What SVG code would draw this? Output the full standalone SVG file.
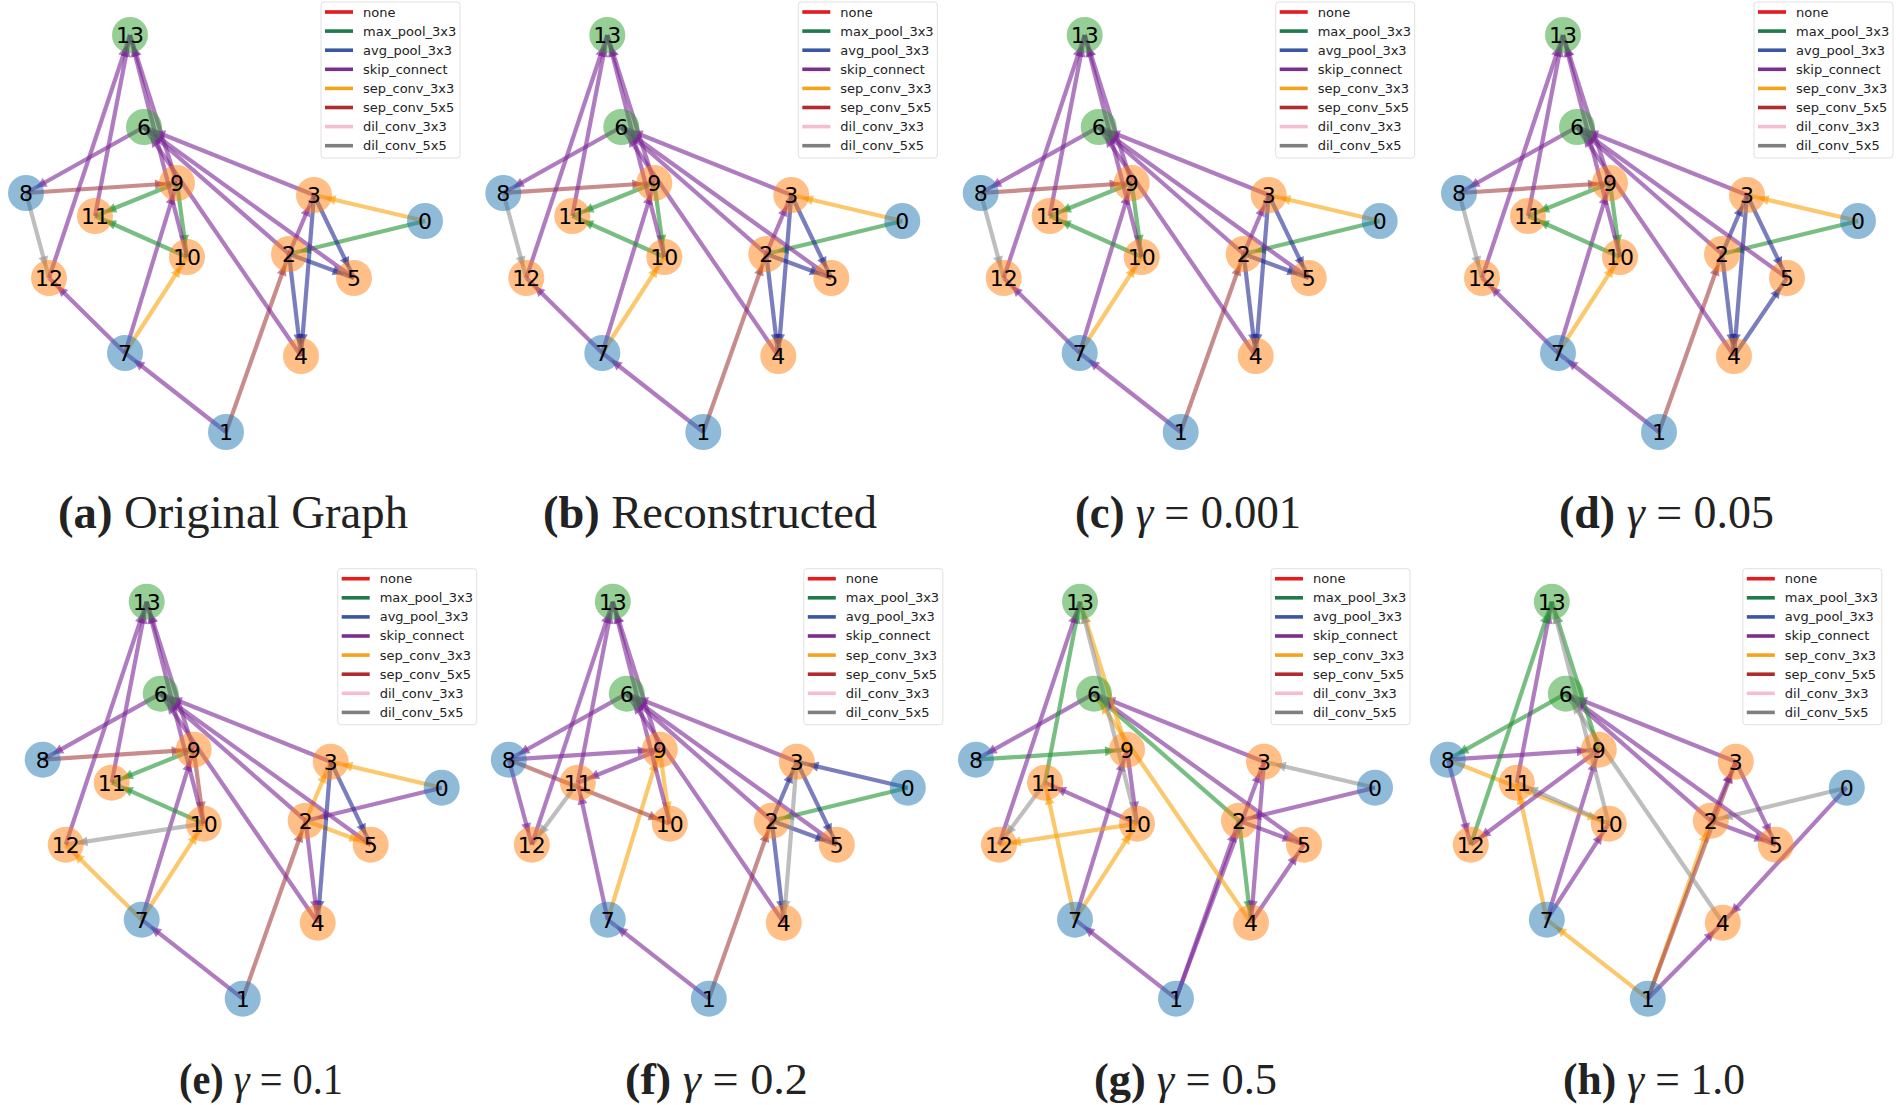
<svg xmlns="http://www.w3.org/2000/svg" xmlns:xlink="http://www.w3.org/1999/xlink" width="1900" height="1105" viewBox="0 0 1900 1105">
<style>
.edges line{stroke-width:4.2;stroke-opacity:.6;fill:none}
.max{stroke:#1e932f;marker-end:url(#m-max)}
.avg{stroke:#22288f;marker-end:url(#m-avg)}
.skip{stroke:#7b2596;marker-end:url(#m-skip)}
.sep3{stroke:#faa30d;marker-end:url(#m-sep3)}
.sep5{stroke:#a33f3f;marker-end:url(#m-sep5)}
.dil5{stroke:#939393;marker-end:url(#m-dil5)}
.node circle{fill-opacity:.5;stroke:none}
.cb{fill:#1f77b4}.co{fill:#ff7f0e}.cg{fill:#2ca02c}
.node text{font-family:"DejaVu Sans",sans-serif;font-size:22px;text-anchor:middle;fill:#000}
.lg text{font-family:"DejaVu Sans",sans-serif;font-size:13px;fill:#222}
.lg line{stroke-width:3.6}
.title{font-family:"Liberation Serif","DejaVu Serif",serif;font-size:46px;fill:#222}
.title2{font-family:"Liberation Serif","DejaVu Serif",serif;font-size:44px;fill:#222}
</style>
<defs>
<marker id="m-max" markerUnits="userSpaceOnUse" markerWidth="40" markerHeight="20" viewBox="-30 -10 40 20" refX="0" refY="0" orient="auto" overflow="visible"><path d="M-11,0 L-22,-5 L-22,5 Z" fill="#1e932f" fill-opacity=".6"/></marker>
<marker id="m-avg" markerUnits="userSpaceOnUse" markerWidth="40" markerHeight="20" viewBox="-30 -10 40 20" refX="0" refY="0" orient="auto" overflow="visible"><path d="M-11,0 L-22,-5 L-22,5 Z" fill="#22288f" fill-opacity=".6"/></marker>
<marker id="m-skip" markerUnits="userSpaceOnUse" markerWidth="40" markerHeight="20" viewBox="-30 -10 40 20" refX="0" refY="0" orient="auto" overflow="visible"><path d="M-11,0 L-22,-5 L-22,5 Z" fill="#7b2596" fill-opacity=".6"/></marker>
<marker id="m-sep3" markerUnits="userSpaceOnUse" markerWidth="40" markerHeight="20" viewBox="-30 -10 40 20" refX="0" refY="0" orient="auto" overflow="visible"><path d="M-11,0 L-22,-5 L-22,5 Z" fill="#faa30d" fill-opacity=".6"/></marker>
<marker id="m-sep5" markerUnits="userSpaceOnUse" markerWidth="40" markerHeight="20" viewBox="-30 -10 40 20" refX="0" refY="0" orient="auto" overflow="visible"><path d="M-11,0 L-22,-5 L-22,5 Z" fill="#a33f3f" fill-opacity=".6"/></marker>
<marker id="m-dil5" markerUnits="userSpaceOnUse" markerWidth="40" markerHeight="20" viewBox="-30 -10 40 20" refX="0" refY="0" orient="auto" overflow="visible"><path d="M-11,0 L-22,-5 L-22,5 Z" fill="#939393" fill-opacity=".6"/></marker>
<g id="legend" class="lg">
<rect x="321" y="2" width="139" height="156" rx="3" fill="#fff" fill-opacity=".8" stroke="#e0e0e0" stroke-width="1"/>
<line x1="325" y1="12" x2="353" y2="12" stroke="#e41a1c"/><text x="363" y="16.5">none</text>
<line x1="325" y1="31.1" x2="353" y2="31.1" stroke="#1e7b4b"/><text x="363" y="35.6">max_pool_3x3</text>
<line x1="325" y1="50.2" x2="353" y2="50.2" stroke="#3a57a4"/><text x="363" y="54.7">avg_pool_3x3</text>
<line x1="325" y1="69.3" x2="353" y2="69.3" stroke="#7a2f8e"/><text x="363" y="73.8">skip_connect</text>
<line x1="325" y1="88.4" x2="353" y2="88.4" stroke="#f5a31a"/><text x="363" y="92.9">sep_conv_3x3</text>
<line x1="325" y1="107.5" x2="353" y2="107.5" stroke="#b22a2e"/><text x="363" y="112">sep_conv_5x5</text>
<line x1="325" y1="126.6" x2="353" y2="126.6" stroke="#f6bcd0"/><text x="363" y="131.1">dil_conv_3x3</text>
<line x1="325" y1="145.7" x2="353" y2="145.7" stroke="#808080"/><text x="363" y="150.2">dil_conv_5x5</text>
</g>
</defs>
<rect width="1900" height="1105" fill="#fff"/>

<!-- Panel a -->
<g id="panel-a" transform="translate(0,0)">
<g id="a-edges" class="edges">
<line class="max" x1="425" y1="221" x2="289" y2="254"/>
<line class="sep5" x1="226" y1="432" x2="289" y2="254"/>
<line class="sep3" x1="425" y1="221" x2="314" y2="195"/>
<line class="skip" x1="289" y1="254" x2="314" y2="195"/>
<line class="avg" x1="289" y1="254" x2="301" y2="356"/>
<line class="avg" x1="314" y1="195" x2="301" y2="356"/>
<line class="avg" x1="289" y1="254" x2="354" y2="278"/>
<line class="avg" x1="314" y1="195" x2="354" y2="278"/>
<line class="skip" x1="289" y1="254" x2="144" y2="127"/>
<line class="skip" x1="314" y1="195" x2="144" y2="127"/>
<line class="skip" x1="301" y1="356" x2="144" y2="127"/>
<line class="skip" x1="354" y1="278" x2="144" y2="127"/>
<line class="skip" x1="144" y1="127" x2="26" y2="193"/>
<line class="skip" x1="226" y1="432" x2="125" y2="353"/>
<line class="sep5" x1="26" y1="193" x2="177" y2="183"/>
<line class="skip" x1="125" y1="353" x2="177" y2="183"/>
<line class="max" x1="177" y1="183" x2="187" y2="257"/>
<line class="sep3" x1="125" y1="353" x2="187" y2="257"/>
<line class="max" x1="177" y1="183" x2="95" y2="216"/>
<line class="max" x1="187" y1="257" x2="95" y2="216"/>
<line class="dil5" x1="26" y1="193" x2="49" y2="278"/>
<line class="skip" x1="125" y1="353" x2="49" y2="278"/>
<line class="skip" x1="177" y1="183" x2="130" y2="35"/>
<line class="skip" x1="187" y1="257" x2="130" y2="35"/>
<line class="skip" x1="95" y1="216" x2="130" y2="35"/>
<line class="skip" x1="49" y1="278" x2="130" y2="35"/>
</g>
<g id="a-n0" class="node"><circle class="cb" cx="425" cy="221" r="18"/><text x="425" y="229">0</text></g>
<g id="a-n1" class="node"><circle class="cb" cx="226" cy="432" r="18"/><text x="226" y="440">1</text></g>
<g id="a-n2" class="node"><circle class="co" cx="289" cy="254" r="18"/><text x="289" y="262">2</text></g>
<g id="a-n3" class="node"><circle class="co" cx="314" cy="195" r="18"/><text x="314" y="203">3</text></g>
<g id="a-n4" class="node"><circle class="co" cx="301" cy="356" r="18"/><text x="301" y="364">4</text></g>
<g id="a-n5" class="node"><circle class="co" cx="354" cy="278" r="18"/><text x="354" y="286">5</text></g>
<g id="a-n6" class="node"><circle class="cg" cx="144" cy="127" r="18"/><text x="144" y="135">6</text></g>
<g id="a-n7" class="node"><circle class="cb" cx="125" cy="353" r="18"/><text x="125" y="361">7</text></g>
<g id="a-n8" class="node"><circle class="cb" cx="26" cy="193" r="18"/><text x="26" y="201">8</text></g>
<g id="a-n9" class="node"><circle class="co" cx="177" cy="183" r="18"/><text x="177" y="191">9</text></g>
<g id="a-n10" class="node"><circle class="co" cx="187" cy="257" r="18"/><text x="187" y="265">10</text></g>
<g id="a-n11" class="node"><circle class="co" cx="95" cy="216" r="18"/><text x="95" y="224">11</text></g>
<g id="a-n12" class="node"><circle class="co" cx="49" cy="278" r="18"/><text x="49" y="286">12</text></g>
<g id="a-n13" class="node"><circle class="cg" cx="130" cy="35" r="18"/><text x="130" y="43">13</text></g>
<use xlink:href="#legend" href="#legend"/>
</g>

<!-- Panel b -->
<g id="panel-b" transform="translate(477.3,0)">
<g id="b-edges" class="edges">
<line class="max" x1="425" y1="221" x2="289" y2="254"/>
<line class="sep5" x1="226" y1="432" x2="289" y2="254"/>
<line class="sep3" x1="425" y1="221" x2="314" y2="195"/>
<line class="skip" x1="289" y1="254" x2="314" y2="195"/>
<line class="avg" x1="289" y1="254" x2="301" y2="356"/>
<line class="avg" x1="314" y1="195" x2="301" y2="356"/>
<line class="avg" x1="289" y1="254" x2="354" y2="278"/>
<line class="avg" x1="314" y1="195" x2="354" y2="278"/>
<line class="skip" x1="289" y1="254" x2="144" y2="127"/>
<line class="skip" x1="314" y1="195" x2="144" y2="127"/>
<line class="skip" x1="301" y1="356" x2="144" y2="127"/>
<line class="skip" x1="354" y1="278" x2="144" y2="127"/>
<line class="skip" x1="144" y1="127" x2="26" y2="193"/>
<line class="skip" x1="226" y1="432" x2="125" y2="353"/>
<line class="sep5" x1="26" y1="193" x2="177" y2="183"/>
<line class="skip" x1="125" y1="353" x2="177" y2="183"/>
<line class="max" x1="177" y1="183" x2="187" y2="257"/>
<line class="sep3" x1="125" y1="353" x2="187" y2="257"/>
<line class="max" x1="177" y1="183" x2="95" y2="216"/>
<line class="max" x1="187" y1="257" x2="95" y2="216"/>
<line class="dil5" x1="26" y1="193" x2="49" y2="278"/>
<line class="skip" x1="125" y1="353" x2="49" y2="278"/>
<line class="skip" x1="177" y1="183" x2="130" y2="35"/>
<line class="skip" x1="187" y1="257" x2="130" y2="35"/>
<line class="skip" x1="95" y1="216" x2="130" y2="35"/>
<line class="skip" x1="49" y1="278" x2="130" y2="35"/>
</g>
<g id="b-n0" class="node"><circle class="cb" cx="425" cy="221" r="18"/><text x="425" y="229">0</text></g>
<g id="b-n1" class="node"><circle class="cb" cx="226" cy="432" r="18"/><text x="226" y="440">1</text></g>
<g id="b-n2" class="node"><circle class="co" cx="289" cy="254" r="18"/><text x="289" y="262">2</text></g>
<g id="b-n3" class="node"><circle class="co" cx="314" cy="195" r="18"/><text x="314" y="203">3</text></g>
<g id="b-n4" class="node"><circle class="co" cx="301" cy="356" r="18"/><text x="301" y="364">4</text></g>
<g id="b-n5" class="node"><circle class="co" cx="354" cy="278" r="18"/><text x="354" y="286">5</text></g>
<g id="b-n6" class="node"><circle class="cg" cx="144" cy="127" r="18"/><text x="144" y="135">6</text></g>
<g id="b-n7" class="node"><circle class="cb" cx="125" cy="353" r="18"/><text x="125" y="361">7</text></g>
<g id="b-n8" class="node"><circle class="cb" cx="26" cy="193" r="18"/><text x="26" y="201">8</text></g>
<g id="b-n9" class="node"><circle class="co" cx="177" cy="183" r="18"/><text x="177" y="191">9</text></g>
<g id="b-n10" class="node"><circle class="co" cx="187" cy="257" r="18"/><text x="187" y="265">10</text></g>
<g id="b-n11" class="node"><circle class="co" cx="95" cy="216" r="18"/><text x="95" y="224">11</text></g>
<g id="b-n12" class="node"><circle class="co" cx="49" cy="278" r="18"/><text x="49" y="286">12</text></g>
<g id="b-n13" class="node"><circle class="cg" cx="130" cy="35" r="18"/><text x="130" y="43">13</text></g>
<use xlink:href="#legend" href="#legend"/>
</g>

<!-- Panel c -->
<g id="panel-c" transform="translate(954.7,0)">
<g id="c-edges" class="edges">
<line class="max" x1="425" y1="221" x2="289" y2="254"/>
<line class="sep5" x1="226" y1="432" x2="289" y2="254"/>
<line class="sep3" x1="425" y1="221" x2="314" y2="195"/>
<line class="skip" x1="289" y1="254" x2="314" y2="195"/>
<line class="avg" x1="289" y1="254" x2="301" y2="356"/>
<line class="avg" x1="314" y1="195" x2="301" y2="356"/>
<line class="avg" x1="289" y1="254" x2="354" y2="278"/>
<line class="avg" x1="314" y1="195" x2="354" y2="278"/>
<line class="skip" x1="289" y1="254" x2="144" y2="127"/>
<line class="skip" x1="314" y1="195" x2="144" y2="127"/>
<line class="skip" x1="301" y1="356" x2="144" y2="127"/>
<line class="skip" x1="354" y1="278" x2="144" y2="127"/>
<line class="skip" x1="144" y1="127" x2="26" y2="193"/>
<line class="skip" x1="226" y1="432" x2="125" y2="353"/>
<line class="sep5" x1="26" y1="193" x2="177" y2="183"/>
<line class="skip" x1="125" y1="353" x2="177" y2="183"/>
<line class="max" x1="177" y1="183" x2="187" y2="257"/>
<line class="sep3" x1="125" y1="353" x2="187" y2="257"/>
<line class="max" x1="177" y1="183" x2="95" y2="216"/>
<line class="max" x1="187" y1="257" x2="95" y2="216"/>
<line class="dil5" x1="26" y1="193" x2="49" y2="278"/>
<line class="skip" x1="125" y1="353" x2="49" y2="278"/>
<line class="skip" x1="177" y1="183" x2="130" y2="35"/>
<line class="skip" x1="187" y1="257" x2="130" y2="35"/>
<line class="skip" x1="95" y1="216" x2="130" y2="35"/>
<line class="skip" x1="49" y1="278" x2="130" y2="35"/>
</g>
<g id="c-n0" class="node"><circle class="cb" cx="425" cy="221" r="18"/><text x="425" y="229">0</text></g>
<g id="c-n1" class="node"><circle class="cb" cx="226" cy="432" r="18"/><text x="226" y="440">1</text></g>
<g id="c-n2" class="node"><circle class="co" cx="289" cy="254" r="18"/><text x="289" y="262">2</text></g>
<g id="c-n3" class="node"><circle class="co" cx="314" cy="195" r="18"/><text x="314" y="203">3</text></g>
<g id="c-n4" class="node"><circle class="co" cx="301" cy="356" r="18"/><text x="301" y="364">4</text></g>
<g id="c-n5" class="node"><circle class="co" cx="354" cy="278" r="18"/><text x="354" y="286">5</text></g>
<g id="c-n6" class="node"><circle class="cg" cx="144" cy="127" r="18"/><text x="144" y="135">6</text></g>
<g id="c-n7" class="node"><circle class="cb" cx="125" cy="353" r="18"/><text x="125" y="361">7</text></g>
<g id="c-n8" class="node"><circle class="cb" cx="26" cy="193" r="18"/><text x="26" y="201">8</text></g>
<g id="c-n9" class="node"><circle class="co" cx="177" cy="183" r="18"/><text x="177" y="191">9</text></g>
<g id="c-n10" class="node"><circle class="co" cx="187" cy="257" r="18"/><text x="187" y="265">10</text></g>
<g id="c-n11" class="node"><circle class="co" cx="95" cy="216" r="18"/><text x="95" y="224">11</text></g>
<g id="c-n12" class="node"><circle class="co" cx="49" cy="278" r="18"/><text x="49" y="286">12</text></g>
<g id="c-n13" class="node"><circle class="cg" cx="130" cy="35" r="18"/><text x="130" y="43">13</text></g>
<use xlink:href="#legend" href="#legend"/>
</g>

<!-- Panel d -->
<g id="panel-d" transform="translate(1433,0)">
<g id="d-edges" class="edges">
<line class="max" x1="425" y1="221" x2="289" y2="254"/>
<line class="sep5" x1="226" y1="432" x2="289" y2="254"/>
<line class="sep3" x1="425" y1="221" x2="314" y2="195"/>
<line class="avg" x1="289" y1="254" x2="314" y2="195"/>
<line class="avg" x1="289" y1="254" x2="301" y2="356"/>
<line class="avg" x1="314" y1="195" x2="301" y2="356"/>
<line class="avg" x1="301" y1="356" x2="354" y2="278"/>
<line class="avg" x1="314" y1="195" x2="354" y2="278"/>
<line class="skip" x1="289" y1="254" x2="144" y2="127"/>
<line class="skip" x1="314" y1="195" x2="144" y2="127"/>
<line class="skip" x1="301" y1="356" x2="144" y2="127"/>
<line class="skip" x1="354" y1="278" x2="144" y2="127"/>
<line class="skip" x1="144" y1="127" x2="26" y2="193"/>
<line class="skip" x1="226" y1="432" x2="125" y2="353"/>
<line class="sep5" x1="26" y1="193" x2="177" y2="183"/>
<line class="skip" x1="125" y1="353" x2="177" y2="183"/>
<line class="max" x1="177" y1="183" x2="187" y2="257"/>
<line class="sep3" x1="125" y1="353" x2="187" y2="257"/>
<line class="max" x1="177" y1="183" x2="95" y2="216"/>
<line class="max" x1="187" y1="257" x2="95" y2="216"/>
<line class="dil5" x1="26" y1="193" x2="49" y2="278"/>
<line class="skip" x1="125" y1="353" x2="49" y2="278"/>
<line class="skip" x1="177" y1="183" x2="130" y2="35"/>
<line class="skip" x1="187" y1="257" x2="130" y2="35"/>
<line class="skip" x1="95" y1="216" x2="130" y2="35"/>
<line class="skip" x1="49" y1="278" x2="130" y2="35"/>
</g>
<g id="d-n0" class="node"><circle class="cb" cx="425" cy="221" r="18"/><text x="425" y="229">0</text></g>
<g id="d-n1" class="node"><circle class="cb" cx="226" cy="432" r="18"/><text x="226" y="440">1</text></g>
<g id="d-n2" class="node"><circle class="co" cx="289" cy="254" r="18"/><text x="289" y="262">2</text></g>
<g id="d-n3" class="node"><circle class="co" cx="314" cy="195" r="18"/><text x="314" y="203">3</text></g>
<g id="d-n4" class="node"><circle class="co" cx="301" cy="356" r="18"/><text x="301" y="364">4</text></g>
<g id="d-n5" class="node"><circle class="co" cx="354" cy="278" r="18"/><text x="354" y="286">5</text></g>
<g id="d-n6" class="node"><circle class="cg" cx="144" cy="127" r="18"/><text x="144" y="135">6</text></g>
<g id="d-n7" class="node"><circle class="cb" cx="125" cy="353" r="18"/><text x="125" y="361">7</text></g>
<g id="d-n8" class="node"><circle class="cb" cx="26" cy="193" r="18"/><text x="26" y="201">8</text></g>
<g id="d-n9" class="node"><circle class="co" cx="177" cy="183" r="18"/><text x="177" y="191">9</text></g>
<g id="d-n10" class="node"><circle class="co" cx="187" cy="257" r="18"/><text x="187" y="265">10</text></g>
<g id="d-n11" class="node"><circle class="co" cx="95" cy="216" r="18"/><text x="95" y="224">11</text></g>
<g id="d-n12" class="node"><circle class="co" cx="49" cy="278" r="18"/><text x="49" y="286">12</text></g>
<g id="d-n13" class="node"><circle class="cg" cx="130" cy="35" r="18"/><text x="130" y="43">13</text></g>
<use xlink:href="#legend" href="#legend"/>
</g>

<!-- Panel e -->
<g id="panel-e" transform="translate(16.7,566.7)">
<g id="e-edges" class="edges">
<line class="sep3" x1="425" y1="221" x2="314" y2="195"/>
<line class="skip" x1="425" y1="221" x2="289" y2="254"/>
<line class="sep5" x1="226" y1="432" x2="289" y2="254"/>
<line class="sep3" x1="289" y1="254" x2="314" y2="195"/>
<line class="sep3" x1="289" y1="254" x2="354" y2="278"/>
<line class="avg" x1="314" y1="195" x2="354" y2="278"/>
<line class="avg" x1="314" y1="195" x2="301" y2="356"/>
<line class="skip" x1="289" y1="254" x2="301" y2="356"/>
<line class="skip" x1="289" y1="254" x2="144" y2="127"/>
<line class="skip" x1="314" y1="195" x2="144" y2="127"/>
<line class="skip" x1="301" y1="356" x2="144" y2="127"/>
<line class="skip" x1="354" y1="278" x2="144" y2="127"/>
<line class="skip" x1="144" y1="127" x2="26" y2="193"/>
<line class="skip" x1="226" y1="432" x2="125" y2="353"/>
<line class="sep5" x1="26" y1="193" x2="177" y2="183"/>
<line class="skip" x1="125" y1="353" x2="177" y2="183"/>
<line class="sep5" x1="177" y1="183" x2="187" y2="257"/>
<line class="sep3" x1="125" y1="353" x2="187" y2="257"/>
<line class="max" x1="177" y1="183" x2="95" y2="216"/>
<line class="max" x1="187" y1="257" x2="95" y2="216"/>
<line class="dil5" x1="187" y1="257" x2="49" y2="278"/>
<line class="sep3" x1="125" y1="353" x2="49" y2="278"/>
<line class="skip" x1="177" y1="183" x2="130" y2="35"/>
<line class="skip" x1="187" y1="257" x2="130" y2="35"/>
<line class="skip" x1="95" y1="216" x2="130" y2="35"/>
<line class="skip" x1="49" y1="278" x2="130" y2="35"/>
</g>
<g id="e-n0" class="node"><circle class="cb" cx="425" cy="221" r="18"/><text x="425" y="229">0</text></g>
<g id="e-n1" class="node"><circle class="cb" cx="226" cy="432" r="18"/><text x="226" y="440">1</text></g>
<g id="e-n2" class="node"><circle class="co" cx="289" cy="254" r="18"/><text x="289" y="262">2</text></g>
<g id="e-n3" class="node"><circle class="co" cx="314" cy="195" r="18"/><text x="314" y="203">3</text></g>
<g id="e-n4" class="node"><circle class="co" cx="301" cy="356" r="18"/><text x="301" y="364">4</text></g>
<g id="e-n5" class="node"><circle class="co" cx="354" cy="278" r="18"/><text x="354" y="286">5</text></g>
<g id="e-n6" class="node"><circle class="cg" cx="144" cy="127" r="18"/><text x="144" y="135">6</text></g>
<g id="e-n7" class="node"><circle class="cb" cx="125" cy="353" r="18"/><text x="125" y="361">7</text></g>
<g id="e-n8" class="node"><circle class="cb" cx="26" cy="193" r="18"/><text x="26" y="201">8</text></g>
<g id="e-n9" class="node"><circle class="co" cx="177" cy="183" r="18"/><text x="177" y="191">9</text></g>
<g id="e-n10" class="node"><circle class="co" cx="187" cy="257" r="18"/><text x="187" y="265">10</text></g>
<g id="e-n11" class="node"><circle class="co" cx="95" cy="216" r="18"/><text x="95" y="224">11</text></g>
<g id="e-n12" class="node"><circle class="co" cx="49" cy="278" r="18"/><text x="49" y="286">12</text></g>
<g id="e-n13" class="node"><circle class="cg" cx="130" cy="35" r="18"/><text x="130" y="43">13</text></g>
<use xlink:href="#legend" href="#legend"/>
</g>

<!-- Panel f -->
<g id="panel-f" transform="translate(482.8,566.7)">
<g id="f-edges" class="edges">
<line class="avg" x1="425" y1="221" x2="314" y2="195"/>
<line class="max" x1="425" y1="221" x2="289" y2="254"/>
<line class="sep5" x1="226" y1="432" x2="289" y2="254"/>
<line class="avg" x1="289" y1="254" x2="314" y2="195"/>
<line class="avg" x1="314" y1="195" x2="354" y2="278"/>
<line class="avg" x1="289" y1="254" x2="354" y2="278"/>
<line class="avg" x1="289" y1="254" x2="301" y2="356"/>
<line class="dil5" x1="314" y1="195" x2="301" y2="356"/>
<line class="skip" x1="289" y1="254" x2="144" y2="127"/>
<line class="skip" x1="314" y1="195" x2="144" y2="127"/>
<line class="skip" x1="301" y1="356" x2="144" y2="127"/>
<line class="skip" x1="354" y1="278" x2="144" y2="127"/>
<line class="skip" x1="144" y1="127" x2="26" y2="193"/>
<line class="skip" x1="226" y1="432" x2="125" y2="353"/>
<line class="skip" x1="26" y1="193" x2="177" y2="183"/>
<line class="sep3" x1="125" y1="353" x2="177" y2="183"/>
<line class="sep3" x1="177" y1="183" x2="187" y2="257"/>
<line class="sep5" x1="26" y1="193" x2="187" y2="257"/>
<line class="skip" x1="177" y1="183" x2="95" y2="216"/>
<line class="skip" x1="125" y1="353" x2="95" y2="216"/>
<line class="dil5" x1="95" y1="216" x2="49" y2="278"/>
<line class="skip" x1="26" y1="193" x2="49" y2="278"/>
<line class="skip" x1="177" y1="183" x2="130" y2="35"/>
<line class="skip" x1="187" y1="257" x2="130" y2="35"/>
<line class="skip" x1="95" y1="216" x2="130" y2="35"/>
<line class="skip" x1="49" y1="278" x2="130" y2="35"/>
</g>
<g id="f-n0" class="node"><circle class="cb" cx="425" cy="221" r="18"/><text x="425" y="229">0</text></g>
<g id="f-n1" class="node"><circle class="cb" cx="226" cy="432" r="18"/><text x="226" y="440">1</text></g>
<g id="f-n2" class="node"><circle class="co" cx="289" cy="254" r="18"/><text x="289" y="262">2</text></g>
<g id="f-n3" class="node"><circle class="co" cx="314" cy="195" r="18"/><text x="314" y="203">3</text></g>
<g id="f-n4" class="node"><circle class="co" cx="301" cy="356" r="18"/><text x="301" y="364">4</text></g>
<g id="f-n5" class="node"><circle class="co" cx="354" cy="278" r="18"/><text x="354" y="286">5</text></g>
<g id="f-n6" class="node"><circle class="cg" cx="144" cy="127" r="18"/><text x="144" y="135">6</text></g>
<g id="f-n7" class="node"><circle class="cb" cx="125" cy="353" r="18"/><text x="125" y="361">7</text></g>
<g id="f-n8" class="node"><circle class="cb" cx="26" cy="193" r="18"/><text x="26" y="201">8</text></g>
<g id="f-n9" class="node"><circle class="co" cx="177" cy="183" r="18"/><text x="177" y="191">9</text></g>
<g id="f-n10" class="node"><circle class="co" cx="187" cy="257" r="18"/><text x="187" y="265">10</text></g>
<g id="f-n11" class="node"><circle class="co" cx="95" cy="216" r="18"/><text x="95" y="224">11</text></g>
<g id="f-n12" class="node"><circle class="co" cx="49" cy="278" r="18"/><text x="49" y="286">12</text></g>
<g id="f-n13" class="node"><circle class="cg" cx="130" cy="35" r="18"/><text x="130" y="43">13</text></g>
<use xlink:href="#legend" href="#legend"/>
</g>

<!-- Panel g -->
<g id="panel-g" transform="translate(950,566.7)">
<g id="g-edges" class="edges">
<line class="dil5" x1="425" y1="221" x2="314" y2="195"/>
<line class="skip" x1="425" y1="221" x2="289" y2="254"/>
<line class="skip" x1="226" y1="432" x2="289" y2="254"/>
<line class="skip" x1="226" y1="432" x2="314" y2="195"/>
<line class="max" x1="289" y1="254" x2="301" y2="356"/>
<line class="skip" x1="314" y1="195" x2="301" y2="356"/>
<line class="skip" x1="301" y1="356" x2="354" y2="278"/>
<line class="skip" x1="289" y1="254" x2="354" y2="278"/>
<line class="max" x1="289" y1="254" x2="144" y2="127"/>
<line class="skip" x1="314" y1="195" x2="144" y2="127"/>
<line class="sep3" x1="301" y1="356" x2="144" y2="127"/>
<line class="skip" x1="354" y1="278" x2="144" y2="127"/>
<line class="skip" x1="144" y1="127" x2="26" y2="193"/>
<line class="skip" x1="226" y1="432" x2="125" y2="353"/>
<line class="max" x1="26" y1="193" x2="177" y2="183"/>
<line class="skip" x1="125" y1="353" x2="177" y2="183"/>
<line class="skip" x1="177" y1="183" x2="187" y2="257"/>
<line class="sep3" x1="125" y1="353" x2="187" y2="257"/>
<line class="skip" x1="187" y1="257" x2="95" y2="216"/>
<line class="sep3" x1="125" y1="353" x2="95" y2="216"/>
<line class="dil5" x1="95" y1="216" x2="49" y2="278"/>
<line class="sep3" x1="187" y1="257" x2="49" y2="278"/>
<line class="sep3" x1="177" y1="183" x2="130" y2="35"/>
<line class="dil5" x1="187" y1="257" x2="130" y2="35"/>
<line class="max" x1="95" y1="216" x2="130" y2="35"/>
<line class="skip" x1="49" y1="278" x2="130" y2="35"/>
</g>
<g id="g-n0" class="node"><circle class="cb" cx="425" cy="221" r="18"/><text x="425" y="229">0</text></g>
<g id="g-n1" class="node"><circle class="cb" cx="226" cy="432" r="18"/><text x="226" y="440">1</text></g>
<g id="g-n2" class="node"><circle class="co" cx="289" cy="254" r="18"/><text x="289" y="262">2</text></g>
<g id="g-n3" class="node"><circle class="co" cx="314" cy="195" r="18"/><text x="314" y="203">3</text></g>
<g id="g-n4" class="node"><circle class="co" cx="301" cy="356" r="18"/><text x="301" y="364">4</text></g>
<g id="g-n5" class="node"><circle class="co" cx="354" cy="278" r="18"/><text x="354" y="286">5</text></g>
<g id="g-n6" class="node"><circle class="cg" cx="144" cy="127" r="18"/><text x="144" y="135">6</text></g>
<g id="g-n7" class="node"><circle class="cb" cx="125" cy="353" r="18"/><text x="125" y="361">7</text></g>
<g id="g-n8" class="node"><circle class="cb" cx="26" cy="193" r="18"/><text x="26" y="201">8</text></g>
<g id="g-n9" class="node"><circle class="co" cx="177" cy="183" r="18"/><text x="177" y="191">9</text></g>
<g id="g-n10" class="node"><circle class="co" cx="187" cy="257" r="18"/><text x="187" y="265">10</text></g>
<g id="g-n11" class="node"><circle class="co" cx="95" cy="216" r="18"/><text x="95" y="224">11</text></g>
<g id="g-n12" class="node"><circle class="co" cx="49" cy="278" r="18"/><text x="49" y="286">12</text></g>
<g id="g-n13" class="node"><circle class="cg" cx="130" cy="35" r="18"/><text x="130" y="43">13</text></g>
<use xlink:href="#legend" href="#legend"/>
</g>

<!-- Panel h -->
<g id="panel-h" transform="translate(1421.8,566.7)">
<g id="h-edges" class="edges">
<line class="dil5" x1="425" y1="221" x2="289" y2="254"/>
<line class="skip" x1="425" y1="221" x2="301" y2="356"/>
<line class="sep3" x1="226" y1="432" x2="289" y2="254"/>
<line class="sep5" x1="226" y1="432" x2="314" y2="195"/>
<line class="skip" x1="289" y1="254" x2="314" y2="195"/>
<line class="skip" x1="226" y1="432" x2="301" y2="356"/>
<line class="skip" x1="314" y1="195" x2="354" y2="278"/>
<line class="skip" x1="289" y1="254" x2="354" y2="278"/>
<line class="skip" x1="289" y1="254" x2="144" y2="127"/>
<line class="skip" x1="314" y1="195" x2="144" y2="127"/>
<line class="dil5" x1="301" y1="356" x2="144" y2="127"/>
<line class="skip" x1="354" y1="278" x2="144" y2="127"/>
<line class="max" x1="144" y1="127" x2="26" y2="193"/>
<line class="sep3" x1="226" y1="432" x2="125" y2="353"/>
<line class="skip" x1="26" y1="193" x2="177" y2="183"/>
<line class="skip" x1="125" y1="353" x2="177" y2="183"/>
<line class="skip" x1="125" y1="353" x2="187" y2="257"/>
<line class="sep3" x1="26" y1="193" x2="187" y2="257"/>
<line class="dil5" x1="187" y1="257" x2="95" y2="216"/>
<line class="sep3" x1="125" y1="353" x2="95" y2="216"/>
<line class="skip" x1="26" y1="193" x2="49" y2="278"/>
<line class="skip" x1="177" y1="183" x2="49" y2="278"/>
<line class="max" x1="177" y1="183" x2="130" y2="35"/>
<line class="dil5" x1="187" y1="257" x2="130" y2="35"/>
<line class="skip" x1="95" y1="216" x2="130" y2="35"/>
<line class="max" x1="49" y1="278" x2="130" y2="35"/>
</g>
<g id="h-n0" class="node"><circle class="cb" cx="425" cy="221" r="18"/><text x="425" y="229">0</text></g>
<g id="h-n1" class="node"><circle class="cb" cx="226" cy="432" r="18"/><text x="226" y="440">1</text></g>
<g id="h-n2" class="node"><circle class="co" cx="289" cy="254" r="18"/><text x="289" y="262">2</text></g>
<g id="h-n3" class="node"><circle class="co" cx="314" cy="195" r="18"/><text x="314" y="203">3</text></g>
<g id="h-n4" class="node"><circle class="co" cx="301" cy="356" r="18"/><text x="301" y="364">4</text></g>
<g id="h-n5" class="node"><circle class="co" cx="354" cy="278" r="18"/><text x="354" y="286">5</text></g>
<g id="h-n6" class="node"><circle class="cg" cx="144" cy="127" r="18"/><text x="144" y="135">6</text></g>
<g id="h-n7" class="node"><circle class="cb" cx="125" cy="353" r="18"/><text x="125" y="361">7</text></g>
<g id="h-n8" class="node"><circle class="cb" cx="26" cy="193" r="18"/><text x="26" y="201">8</text></g>
<g id="h-n9" class="node"><circle class="co" cx="177" cy="183" r="18"/><text x="177" y="191">9</text></g>
<g id="h-n10" class="node"><circle class="co" cx="187" cy="257" r="18"/><text x="187" y="265">10</text></g>
<g id="h-n11" class="node"><circle class="co" cx="95" cy="216" r="18"/><text x="95" y="224">11</text></g>
<g id="h-n12" class="node"><circle class="co" cx="49" cy="278" r="18"/><text x="49" y="286">12</text></g>
<g id="h-n13" class="node"><circle class="cg" cx="130" cy="35" r="18"/><text x="130" y="43">13</text></g>
<use xlink:href="#legend" href="#legend"/>
</g>

<g id="titles">
<text class="title" x="58" y="528" textLength="350" lengthAdjust="spacingAndGlyphs"><tspan font-weight="bold">(a)</tspan> Original Graph</text>
<text class="title" x="543" y="528" textLength="334" lengthAdjust="spacingAndGlyphs"><tspan font-weight="bold">(b)</tspan> Reconstructed</text>
<text class="title" x="1075" y="528" textLength="226" lengthAdjust="spacingAndGlyphs"><tspan font-weight="bold">(c)</tspan> <tspan font-style="italic">γ</tspan> = 0.001</text>
<text class="title" x="1559" y="528" textLength="215" lengthAdjust="spacingAndGlyphs"><tspan font-weight="bold">(d)</tspan> <tspan font-style="italic">γ</tspan> = 0.05</text>
<text class="title2" x="179" y="1094" textLength="164" lengthAdjust="spacingAndGlyphs"><tspan font-weight="bold">(e)</tspan> <tspan font-style="italic">γ</tspan> = 0.1</text>
<text class="title2" x="625" y="1094" textLength="183" lengthAdjust="spacingAndGlyphs"><tspan font-weight="bold">(f)</tspan> <tspan font-style="italic">γ</tspan> = 0.2</text>
<text class="title2" x="1094" y="1094" textLength="183" lengthAdjust="spacingAndGlyphs"><tspan font-weight="bold">(g)</tspan> <tspan font-style="italic">γ</tspan> = 0.5</text>
<text class="title2" x="1563" y="1094" textLength="182" lengthAdjust="spacingAndGlyphs"><tspan font-weight="bold">(h)</tspan> <tspan font-style="italic">γ</tspan> = 1.0</text>
</g>
</svg>
